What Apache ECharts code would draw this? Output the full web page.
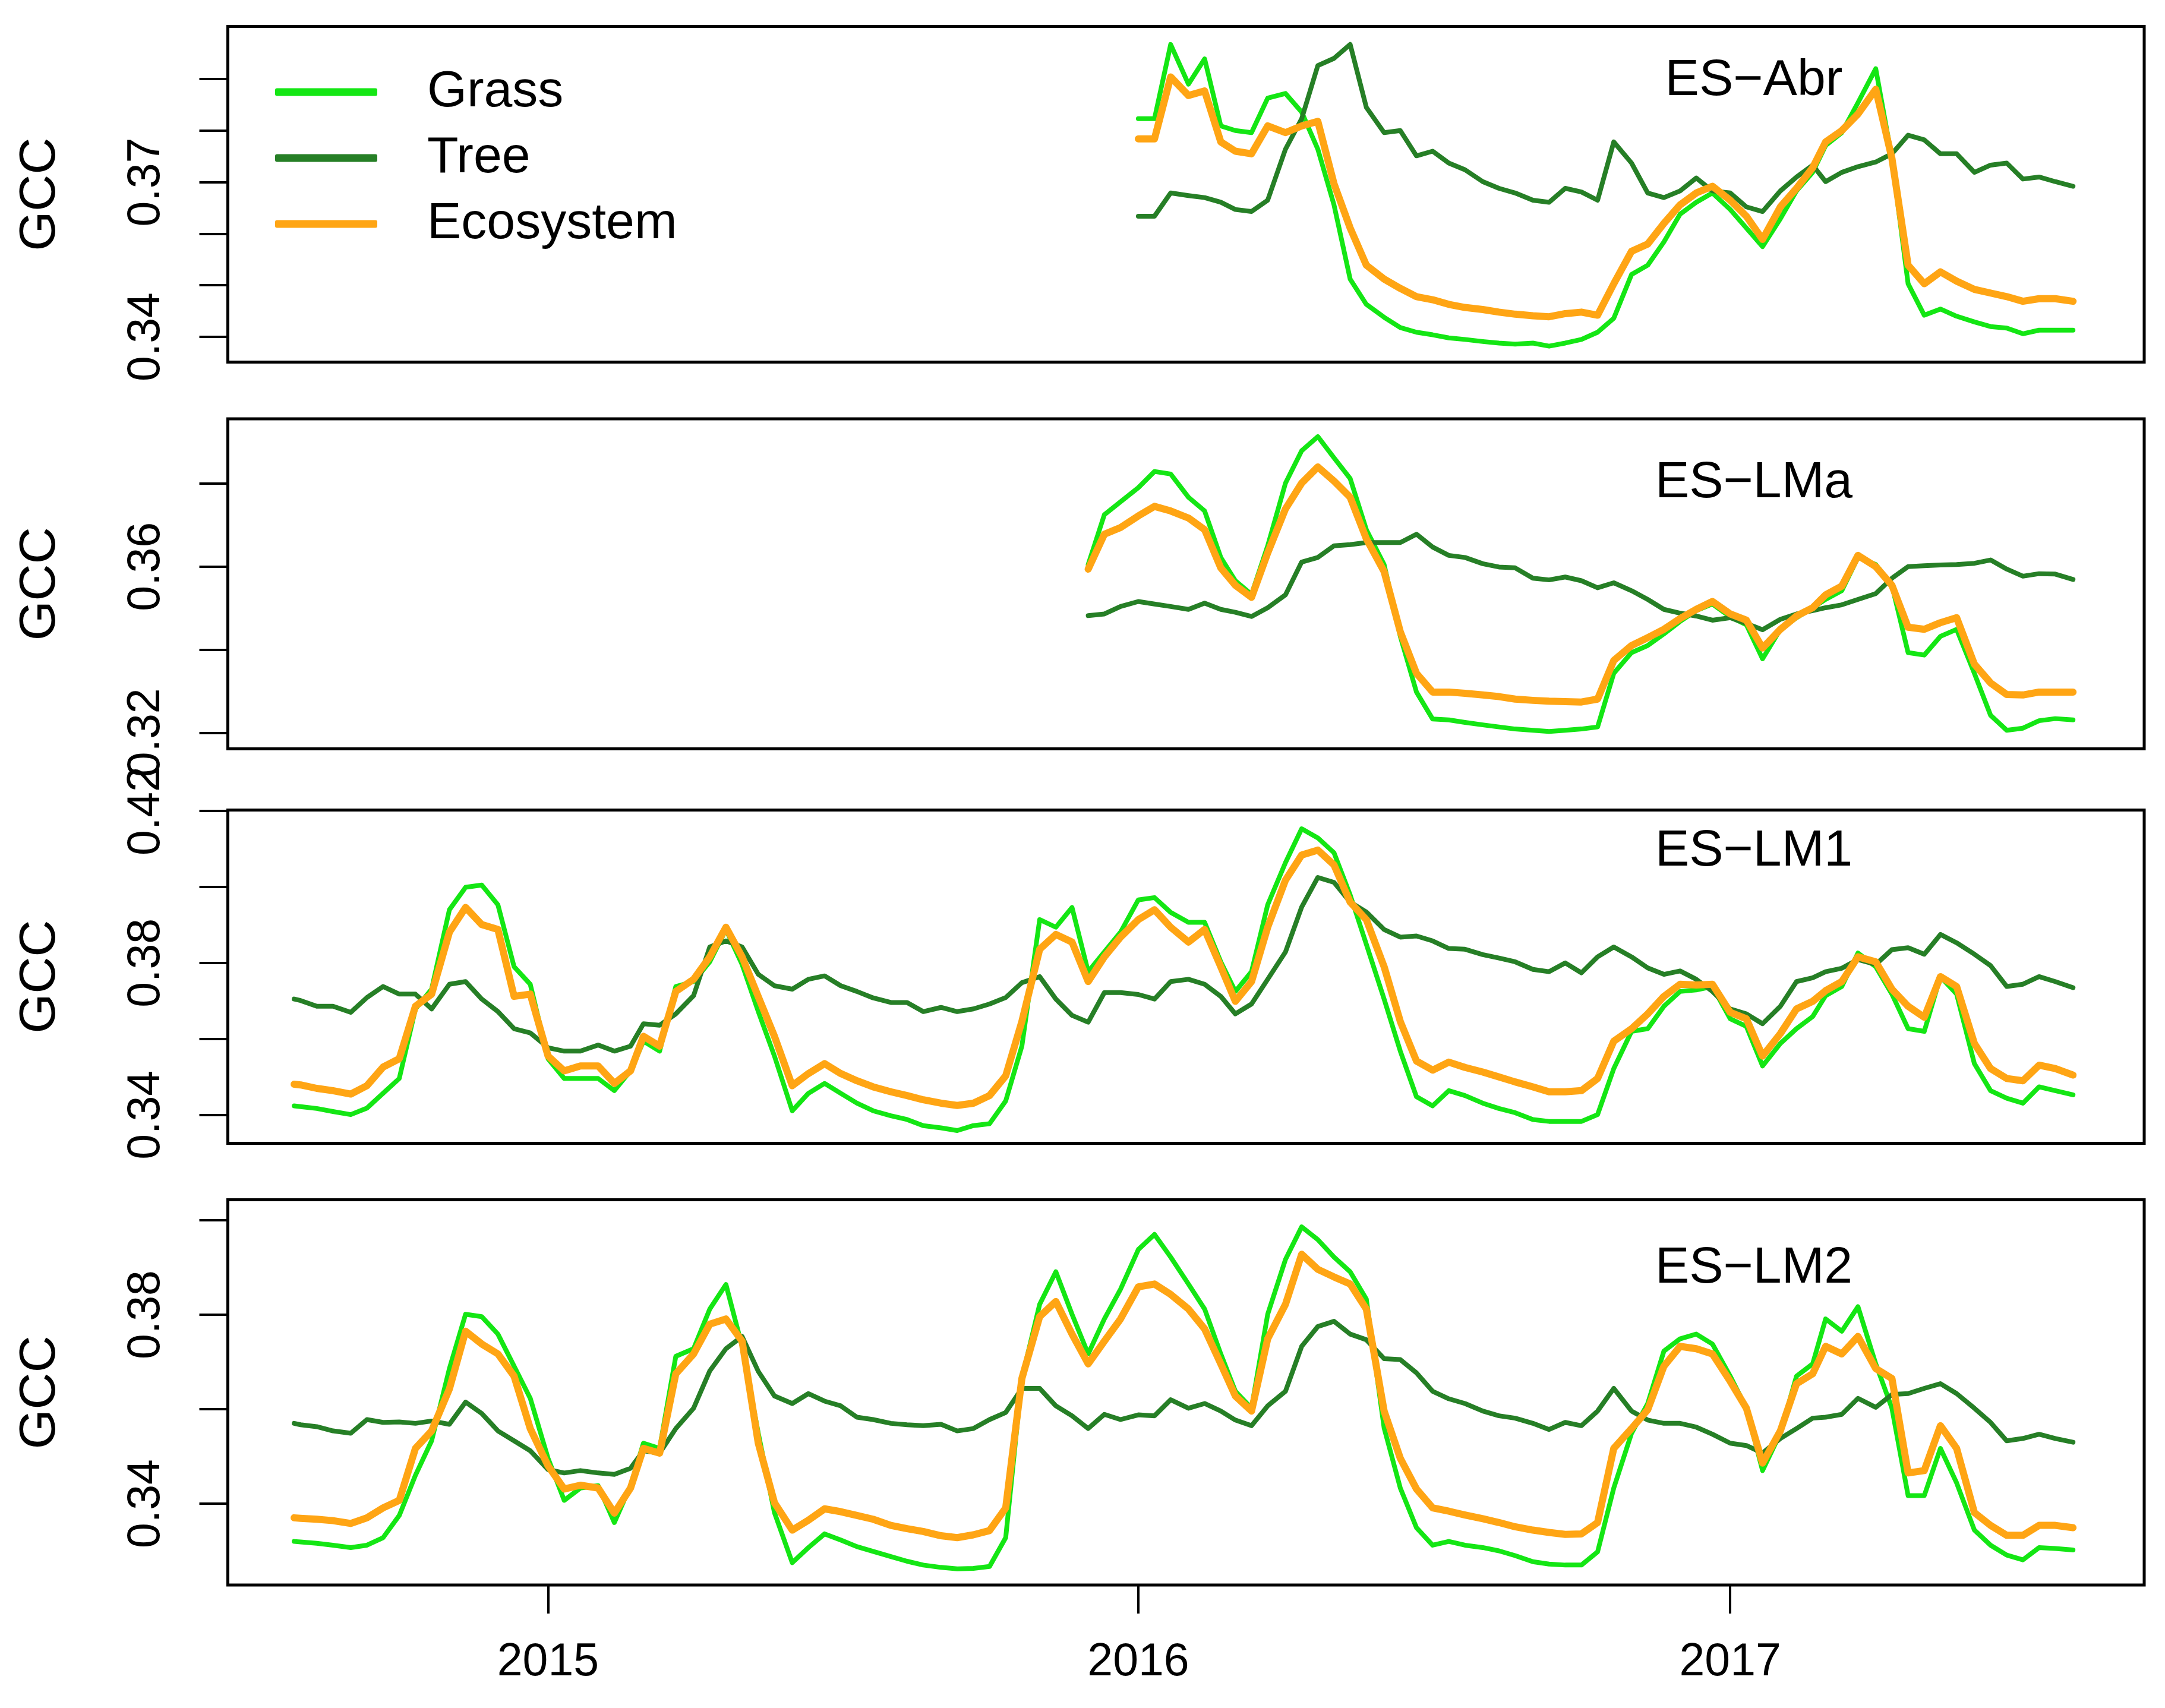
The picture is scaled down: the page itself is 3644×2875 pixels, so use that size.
<!DOCTYPE html>
<html>
<head>
<meta charset="utf-8">
<title>GCC time series</title>
<script src="https://cdn.jsdelivr.net/npm/echarts@6/dist/echarts.min.js"></script>
<style>
  html, body { margin: 0; padding: 0; background: #fff; }
  #chart { width: 3644px; height: 2875px; }
</style>
</head>
<body>
<div id="chart"></div>
<script>
// sample dates (every ~10 days), shared by all sites; shorter series end on the last date
var dates = [
  '2014-07-28', '2014-08-01', '2014-08-11', '2014-08-21', '2014-09-01', '2014-09-11', '2014-09-21', '2014-10-01', '2014-10-11', '2014-10-21', '2014-11-01', '2014-11-11', '2014-11-21', '2014-12-01', '2014-12-11', '2014-12-21',
  '2015-01-01', '2015-01-11', '2015-01-21', '2015-02-01', '2015-02-11', '2015-02-21', '2015-03-01', '2015-03-11', '2015-03-21', '2015-04-01', '2015-04-11', '2015-04-21',
  '2015-05-01', '2015-05-11', '2015-05-21', '2015-06-01', '2015-06-11', '2015-06-21', '2015-07-01', '2015-07-11', '2015-07-21', '2015-08-01', '2015-08-11', '2015-08-21',
  '2015-09-01', '2015-09-11', '2015-09-21', '2015-10-01', '2015-10-11', '2015-10-21', '2015-11-01', '2015-11-11', '2015-11-21', '2015-12-01', '2015-12-11', '2015-12-21',
  '2016-01-01', '2016-01-11', '2016-01-21', '2016-02-01', '2016-02-11', '2016-02-21', '2016-03-01', '2016-03-11', '2016-03-21', '2016-04-01', '2016-04-11', '2016-04-21',
  '2016-05-01', '2016-05-11', '2016-05-21', '2016-06-01', '2016-06-11', '2016-06-21', '2016-07-01', '2016-07-11', '2016-07-21', '2016-08-01', '2016-08-11', '2016-08-21',
  '2016-09-01', '2016-09-11', '2016-09-21', '2016-10-01', '2016-10-11', '2016-10-21', '2016-11-01', '2016-11-11', '2016-11-21', '2016-12-01', '2016-12-11', '2016-12-21',
  '2017-01-01', '2017-01-11', '2017-01-21', '2017-02-01', '2017-02-11', '2017-02-21', '2017-03-01', '2017-03-11', '2017-03-21', '2017-04-01', '2017-04-11', '2017-04-21',
  '2017-05-01', '2017-05-11', '2017-05-21', '2017-06-01', '2017-06-11', '2017-06-21', '2017-07-01', '2017-07-11', '2017-07-21', '2017-08-01'
]

// ES-Abr (from 2016-01-01)
var abrGrass = [0.3823, 0.3823, 0.3967, 0.3890, 0.3939, 0.3809, 0.3800, 0.3796, 0.3863, 0.3872, 0.3836, 0.3764, 0.3656, 0.3512, 0.3463, 0.3438, 0.3418, 0.3409, 0.3404, 0.3398, 0.3395, 0.3391, 0.3388, 0.3386, 0.3388, 0.3382, 0.3388, 0.3395, 0.3409,
  0.3436, 0.3521, 0.3539, 0.3584, 0.3638, 0.3661, 0.3679, 0.3647, 0.3611, 0.3575, 0.3629, 0.3683, 0.3719, 0.3771, 0.3796, 0.3854, 0.3920, 0.3746, 0.3503, 0.3442, 0.3454, 0.3440, 0.3429, 0.3420, 0.3417, 0.3406, 0.3413, 0.3413, 0.3413]
var abrTree = [0.3634, 0.3634, 0.3679, 0.3674, 0.3670, 0.3661, 0.3647, 0.3643, 0.3665, 0.3764, 0.3823, 0.3926, 0.3940, 0.3967, 0.3845, 0.3796, 0.3800, 0.3751, 0.3760, 0.3737, 0.3724, 0.3701, 0.3688, 0.3679, 0.3665, 0.3661, 0.3688, 0.3681, 0.3665,
  0.3778, 0.3737, 0.3679, 0.3670, 0.3683, 0.3708, 0.3683, 0.3679, 0.3652, 0.3643, 0.3683, 0.3710, 0.3733, 0.3701, 0.3719, 0.3730, 0.3739, 0.3755, 0.3791, 0.3782, 0.3755, 0.3755, 0.3719, 0.3733, 0.3737, 0.3706, 0.3710, 0.3701, 0.3692]
var abrEco = [0.3784, 0.3784, 0.3904, 0.3868, 0.3877, 0.3778, 0.3760, 0.3755, 0.3809, 0.3796, 0.3809, 0.3818, 0.3697, 0.3611, 0.3539, 0.3512, 0.3494, 0.3478, 0.3472, 0.3463, 0.3457, 0.3453, 0.3448, 0.3444, 0.3441, 0.3439, 0.3445, 0.3448, 0.3442,
  0.3503, 0.3566, 0.3580, 0.3620, 0.3656, 0.3679, 0.3692, 0.3665, 0.3634, 0.3589, 0.3652, 0.3688, 0.3728, 0.3778, 0.3800, 0.3832, 0.3880, 0.3746, 0.3539, 0.3503, 0.3526, 0.3508, 0.3492, 0.3485, 0.3478, 0.3469, 0.3474, 0.3474, 0.3469]

// ES-LMa (from 2015-12-01)
var lmaGrass = [0.3605, 0.3725, 0.3756, 0.3790, 0.3829, 0.3823, 0.3767, 0.3734, 0.3622, 0.3566, 0.3533, 0.3650, 0.3801, 0.3879, 0.3913, 0.3862, 0.3812, 0.3689, 0.3605, 0.3432, 0.3298, 0.3233, 0.3231, 0.3225, 0.3219, 0.3214, 0.3209, 0.3206, 0.3203, 0.3206, 0.3209, 0.3214,
  0.3343, 0.3393, 0.3410, 0.3438, 0.3468, 0.3494, 0.3510, 0.3479, 0.3460, 0.3378, 0.3449, 0.3477, 0.3501, 0.3521, 0.3542, 0.3622, 0.3605, 0.3555, 0.3393, 0.3387, 0.3432, 0.3449, 0.3343, 0.3242, 0.3206, 0.3211, 0.3229, 0.3234, 0.3231]
var lmaTree = [0.3482, 0.3486, 0.3504, 0.3516, 0.3510, 0.3504, 0.3497, 0.3512, 0.3497, 0.3490, 0.3480, 0.3501, 0.3532, 0.3611, 0.3622, 0.3650, 0.3653, 0.3658, 0.3658, 0.3658, 0.3678, 0.3647, 0.3627, 0.3622, 0.3607, 0.3599, 0.3597, 0.3572, 0.3568, 0.3575, 0.3566, 0.3549,
  0.3561, 0.3542, 0.3521, 0.3497, 0.3488, 0.3481, 0.3471, 0.3477, 0.3463, 0.3448, 0.3473, 0.3486, 0.3494, 0.3501, 0.3508, 0.3521, 0.3535, 0.3572, 0.3600, 0.3602, 0.3604, 0.3605, 0.3608, 0.3616, 0.3594, 0.3577, 0.3583, 0.3582, 0.3569]
var lmaEco = [0.3594, 0.3678, 0.3694, 0.3722, 0.3745, 0.3734, 0.3717, 0.3689, 0.3597, 0.3555, 0.3526, 0.3633, 0.3739, 0.3801, 0.3840, 0.3806, 0.3767, 0.3667, 0.3588, 0.3443, 0.3343, 0.3298, 0.3298, 0.3295, 0.3291, 0.3287, 0.3281, 0.3278, 0.3276, 0.3275, 0.3274, 0.3281,
  0.3374, 0.3410, 0.3429, 0.3449, 0.3475, 0.3497, 0.3516, 0.3486, 0.3471, 0.3404, 0.3449, 0.3481, 0.3501, 0.3532, 0.3553, 0.3627, 0.3600, 0.3555, 0.3454, 0.3449, 0.3465, 0.3477, 0.3365, 0.3320, 0.3292, 0.3291, 0.3298, 0.3298, 0.3298]

// ES-LM1 (full period)
var lm1Grass = [0.3424, 0.3422, 0.3417, 0.3409, 0.3401, 0.3418, 0.3457, 0.3496, 0.3679, 0.3731, 0.3940, 0.3999, 0.4005, 0.3953, 0.3790, 0.3744, 0.3548, 0.3496, 0.3496, 0.3496, 0.3464, 0.3516, 0.3594, 0.3568, 0.3738, 0.3751, 0.3803, 0.3888,
  0.3796, 0.3672, 0.3555, 0.3411, 0.3457, 0.3483, 0.3457, 0.3431, 0.3411, 0.3398, 0.3388, 0.3372, 0.3366, 0.3359, 0.3372, 0.3377, 0.3437, 0.3581, 0.3914, 0.3894, 0.3946, 0.3777, 0.3829, 0.3881, 0.3966, 0.3972, 0.3933,
  0.3907, 0.3907, 0.3803, 0.3725, 0.3777, 0.3953, 0.4064, 0.4153, 0.4129, 0.4090, 0.3979, 0.3849, 0.3705, 0.3568, 0.3448, 0.3424, 0.3464, 0.3451, 0.3431, 0.3417, 0.3406, 0.3388, 0.3383, 0.3383, 0.3383, 0.3401, 0.3522, 0.3620,
  0.3627, 0.3686, 0.3725, 0.3729, 0.3738, 0.3653, 0.3633, 0.3529, 0.3588, 0.3627, 0.3659, 0.3714, 0.3738, 0.3826, 0.3790, 0.3718, 0.3627, 0.3620, 0.3764, 0.3718, 0.3535, 0.3464, 0.3444, 0.3431, 0.3474, 0.3464, 0.3453]
var lm1Tree = [0.3705, 0.3701, 0.3686, 0.3686, 0.3670, 0.3709, 0.3738, 0.3718, 0.3718, 0.3679, 0.3744, 0.3751, 0.3705, 0.3672, 0.3627, 0.3616, 0.3577, 0.3568, 0.3568, 0.3584, 0.3568, 0.3581, 0.3640, 0.3636, 0.3666, 0.3714, 0.3842, 0.3858,
  0.3842, 0.3770, 0.3740, 0.3731, 0.3757, 0.3766, 0.3740, 0.3725, 0.3708, 0.3696, 0.3696, 0.3672, 0.3683, 0.3672, 0.3679, 0.3692, 0.3709, 0.3748, 0.3764, 0.3705, 0.3662, 0.3644, 0.3722, 0.3722, 0.3717, 0.3705, 0.3751,
  0.3757, 0.3744, 0.3712, 0.3666, 0.3692, 0.3757, 0.3829, 0.3947, 0.4025, 0.4012, 0.3960, 0.3934, 0.3888, 0.3868, 0.3871, 0.3858, 0.3838, 0.3836, 0.3822, 0.3813, 0.3803, 0.3783, 0.3777, 0.3800, 0.3774, 0.3816, 0.3842, 0.3816,
  0.3787, 0.3770, 0.3779, 0.3757, 0.3725, 0.3679, 0.3666, 0.3640, 0.3686, 0.3751, 0.3761, 0.3777, 0.3786, 0.3809, 0.3796, 0.3835, 0.3840, 0.3823, 0.3875, 0.3853, 0.3823, 0.3793, 0.3738, 0.3744, 0.3764, 0.3751, 0.3735]
var lm1Eco = [0.3481, 0.3479, 0.3470, 0.3464, 0.3455, 0.3477, 0.3526, 0.3548, 0.3686, 0.3718, 0.3881, 0.3946, 0.3901, 0.3888, 0.3712, 0.3718, 0.3555, 0.3516, 0.3529, 0.3529, 0.3483, 0.3516, 0.3607, 0.3581, 0.3725, 0.3757, 0.3816, 0.3894,
  0.3816, 0.3711, 0.3607, 0.3477, 0.3509, 0.3535, 0.3509, 0.3490, 0.3474, 0.3461, 0.3451, 0.3440, 0.3431, 0.3425, 0.3431, 0.3451, 0.3503, 0.3646, 0.3836, 0.3875, 0.3855, 0.3751, 0.3816, 0.3868, 0.3914, 0.3940, 0.3894,
  0.3855, 0.3888, 0.3790, 0.3699, 0.3751, 0.3894, 0.4018, 0.4084, 0.4097, 0.4058, 0.3960, 0.3914, 0.3790, 0.3646, 0.3542, 0.3518, 0.3539, 0.3525, 0.3513, 0.3500, 0.3487, 0.3474, 0.3461, 0.3461, 0.3464, 0.3496, 0.3594, 0.3627,
  0.3666, 0.3712, 0.3744, 0.3742, 0.3744, 0.3670, 0.3653, 0.3555, 0.3614, 0.3679, 0.3699, 0.3727, 0.3751, 0.3816, 0.3803, 0.3731, 0.3686, 0.3657, 0.3764, 0.3738, 0.3588, 0.3522, 0.3496, 0.3490, 0.3531, 0.3522, 0.3505]

// ES-LM2 (full period)
var lm2Grass = [0.3320, 0.3319, 0.3316, 0.3312, 0.3307, 0.3312, 0.3328, 0.3375, 0.3460, 0.3533, 0.3686, 0.3801, 0.3796, 0.3759, 0.3691, 0.3623, 0.3496, 0.3407, 0.3433, 0.3438, 0.3360, 0.3438, 0.3528, 0.3517, 0.3712, 0.3728, 0.3812, 0.3864,
  0.3733, 0.3549, 0.3381, 0.3275, 0.3307, 0.3336, 0.3323, 0.3309, 0.3299, 0.3288, 0.3278, 0.3270, 0.3265, 0.3262, 0.3263, 0.3267, 0.3328, 0.3665, 0.3822, 0.3891, 0.3801, 0.3717, 0.3791, 0.3854, 0.3938, 0.3970, 0.3922,
  0.3865, 0.3812, 0.3717, 0.3638, 0.3602, 0.3801, 0.3917, 0.3986, 0.3959, 0.3922, 0.3891, 0.3833, 0.3560, 0.3433, 0.3349, 0.3312, 0.3320, 0.3312, 0.3307, 0.3300, 0.3290, 0.3277, 0.3272, 0.3270, 0.3270, 0.3298, 0.3433, 0.3549,
  0.3612, 0.3723, 0.3749, 0.3759, 0.3738, 0.3670, 0.3602, 0.3470, 0.3549, 0.3670, 0.3696, 0.3791, 0.3765, 0.3817, 0.3696, 0.3602, 0.3417, 0.3417, 0.3517, 0.3444, 0.3344, 0.3312, 0.3291, 0.3281, 0.3307, 0.3305, 0.3302]
var lm2Tree = [0.3570, 0.3567, 0.3563, 0.3554, 0.3549, 0.3578, 0.3572, 0.3573, 0.3570, 0.3575, 0.3568, 0.3615, 0.3591, 0.3554, 0.3533, 0.3512, 0.3472, 0.3465, 0.3470, 0.3465, 0.3462, 0.3475, 0.3512, 0.3507, 0.3559, 0.3602, 0.3681, 0.3728,
  0.3754, 0.3680, 0.3628, 0.3612, 0.3633, 0.3617, 0.3607, 0.3583, 0.3578, 0.3570, 0.3567, 0.3565, 0.3568, 0.3554, 0.3559, 0.3578, 0.3593, 0.3644, 0.3644, 0.3607, 0.3586, 0.3559, 0.3589, 0.3578, 0.3588, 0.3586, 0.3620,
  0.3602, 0.3612, 0.3596, 0.3577, 0.3565, 0.3607, 0.3638, 0.3733, 0.3775, 0.3786, 0.3759, 0.3747, 0.3707, 0.3705, 0.3677, 0.3638, 0.3622, 0.3612, 0.3596, 0.3586, 0.3581, 0.3570, 0.3557, 0.3572, 0.3565, 0.3596, 0.3644, 0.3596,
  0.3577, 0.3570, 0.3570, 0.3562, 0.3547, 0.3528, 0.3523, 0.3507, 0.3538, 0.3559, 0.3581, 0.3583, 0.3589, 0.3623, 0.3604, 0.3631, 0.3633, 0.3644, 0.3654, 0.3633, 0.3602, 0.3572, 0.3533, 0.3538, 0.3547, 0.3538, 0.3530]
var lm2Eco = [0.3370, 0.3369, 0.3367, 0.3364, 0.3358, 0.3370, 0.3391, 0.3407, 0.3517, 0.3554, 0.3643, 0.3765, 0.3738, 0.3717, 0.3670, 0.3559, 0.3480, 0.3431, 0.3439, 0.3433, 0.3380, 0.3433, 0.3517, 0.3507, 0.3675, 0.3717, 0.3780, 0.3791,
  0.3744, 0.3528, 0.3402, 0.3344, 0.3365, 0.3389, 0.3383, 0.3375, 0.3367, 0.3354, 0.3347, 0.3341, 0.3332, 0.3328, 0.3334, 0.3343, 0.3391, 0.3665, 0.3796, 0.3828, 0.3759, 0.3696, 0.3744, 0.3791, 0.3859, 0.3865, 0.3843,
  0.3812, 0.3770, 0.3696, 0.3628, 0.3596, 0.3749, 0.3822, 0.3928, 0.3896, 0.3880, 0.3865, 0.3812, 0.3596, 0.3496, 0.3431, 0.3391, 0.3384, 0.3376, 0.3368, 0.3360, 0.3351, 0.3344, 0.3339, 0.3335, 0.3336, 0.3360, 0.3517, 0.3559,
  0.3599, 0.3691, 0.3733, 0.3728, 0.3717, 0.3659, 0.3602, 0.3486, 0.3554, 0.3654, 0.3675, 0.3733, 0.3717, 0.3754, 0.3686, 0.3665, 0.3465, 0.3470, 0.3565, 0.3517, 0.3381, 0.3354, 0.3333, 0.3333, 0.3354, 0.3354, 0.3349]

// tick marks and the labels R kept (the others overlapped)
var abrTicks = [0.34, 0.35, 0.36, 0.37, 0.38, 0.39]
var abrLabels = [0.34, 0.37]
var lmaTicks = [0.32, 0.34, 0.36, 0.38]
var lmaLabels = [0.32, 0.36]
var lm1Ticks = [0.34, 0.36, 0.38, 0.40, 0.42]
var lm1Labels = [0.34, 0.38, 0.42]
var lm2Ticks = [0.34, 0.36, 0.38, 0.40]
var lm2Labels = [0.34, 0.38]
var yearTicks = ['2015-01-01', '2016-01-01', '2017-01-01']
var xRange = ['2014-06-17', '2017-09-14']

var seriesNames = ['Grass', 'Tree', 'Ecosystem']
var seriesColors = ['#14e614', '#267f26', '#ffa514']
var seriesWidths = [8, 8, 12]

var FONT = '"Liberation Sans", Arial, Helvetica, sans-serif'

var panels = [
  { site: 'ES\u2212Abr', values: [abrGrass, abrTree, abrEco], ticks: abrTicks, labels: abrLabels, min: 0.33512, max: 0.40018, top: 44.6, height: 564.8, siteY: 136 },
  { site: 'ES\u2212LMa', values: [lmaGrass, lmaTree, lmaEco], ticks: lmaTicks, labels: lmaLabels, min: 0.31611, max: 0.39558, top: 705, height: 555.6, siteY: 813 },
  { site: 'ES\u2212LM1', values: [lm1Grass, lm1Tree, lm1Eco], ticks: lm1Ticks, labels: lm1Labels, min: 0.33254, max: 0.42025, top: 1363.4, height: 561.1, siteY: 1433 },
  { site: 'ES\u2212LM2', values: [lm2Grass, lm2Tree, lm2Eco], ticks: lm2Ticks, labels: lm2Labels, min: 0.32277, max: 0.40434, top: 2019.5, height: 648.5, siteY: 2135 }
]

// day string -> ms (local midnight), the x axis is a plain value axis in ms
function ts (d) {
  return echarts.time.parse(d).getTime()
}

// pair values with dates, aligned on the last date
function toPairs (values) {
  var offset = dates.length - values.length
  return values.map(function (v, i) { return [ts(dates[offset + i]), v] })
}

var yearTickMs = yearTicks.map(ts)
var grids = []
var xAxes = []
var yAxes = []
var series = []
var graphics = []

panels.forEach(function (p, i) {
  var isLast = i === panels.length - 1
  grids.push({
    left: 383.5, right: 35, top: p.top, height: p.height,
    show: true, borderColor: '#000', borderWidth: 5, backgroundColor: 'transparent'
  })
  xAxes.push({
    type: 'value', gridIndex: i, min: ts(xRange[0]), max: ts(xRange[1]),
    show: isLast,
    axisLine: { show: false },
    splitLine: { show: false },
    axisTick: { show: true, inside: false, length: 48, lineStyle: { color: '#000', width: 4 }, customValues: yearTickMs },
    axisLabel: {
      customValues: yearTickMs, margin: 92, fontSize: 77, fontFamily: FONT, color: '#000',
      formatter: function (v) { return String(new Date(v).getFullYear()) }
    }
  })
  yAxes.push({
    type: 'value', gridIndex: i, min: p.min, max: p.max,
    name: 'GCC', nameLocation: 'middle', nameRotate: 90, nameGap: 272,
    nameTextStyle: { fontSize: 86, fontFamily: FONT, color: '#000' },
    axisLine: { show: false },
    splitLine: { show: false },
    axisTick: { show: true, inside: false, length: 48, lineStyle: { color: '#000', width: 4 }, customValues: p.ticks },
    axisLabel: {
      customValues: p.labels, rotate: 90, margin: 98, fontSize: 77, fontFamily: FONT, color: '#000',
      formatter: function (v) { return v.toFixed(2) }
    }
  })
  p.values.forEach(function (vals, k) {
    series.push({
      name: seriesNames[k], type: 'line', xAxisIndex: i, yAxisIndex: i,
      data: toPairs(vals), showSymbol: false, symbol: 'none',
      lineStyle: { color: seriesColors[k], width: seriesWidths[k], join: 'round', cap: 'round' },
      itemStyle: { color: seriesColors[k] },
      emphasis: { disabled: true }
    })
  })
  graphics.push({
    type: 'text', x: 2952, y: p.siteY,
    style: { text: p.site, fontSize: 86, fontFamily: FONT, fill: '#000', align: 'center', verticalAlign: 'middle' }
  })
})

var chart = echarts.init(document.getElementById('chart'), null, { renderer: 'canvas' })
chart.setOption({
  animation: false,
  backgroundColor: '#fff',
  grid: grids,
  xAxis: xAxes,
  yAxis: yAxes,
  legend: {
    data: seriesNames, orient: 'vertical', left: 463, top: 112, padding: 0,
    icon: 'roundRect', itemWidth: 172, itemHeight: 13, itemGap: 25,
    selectedMode: false,
    textStyle: { fontSize: 86, fontFamily: FONT, color: '#000', padding: [0, 0, 0, 79] }
  },
  graphic: graphics,
  series: series
})
</script>
</body>
</html>
